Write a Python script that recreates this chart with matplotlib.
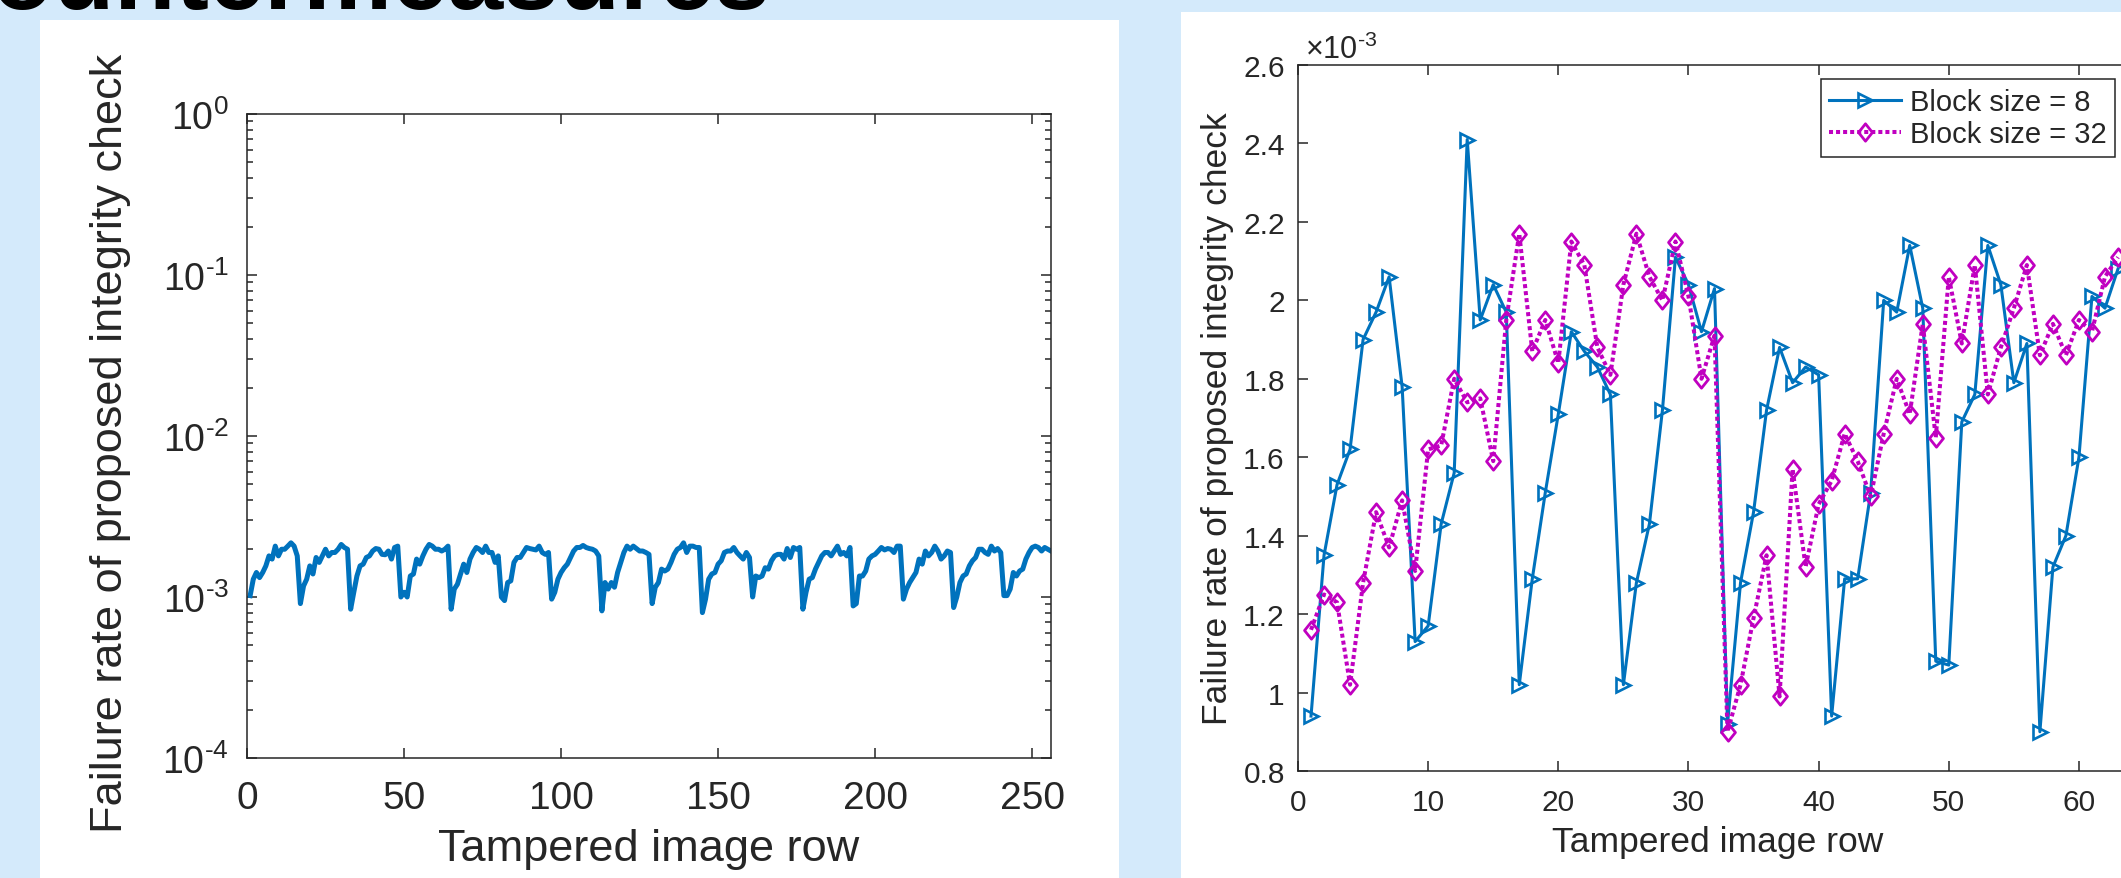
import numpy as np
import matplotlib
matplotlib.use("Agg")
import matplotlib.pyplot as plt
from matplotlib.patches import Rectangle
from matplotlib.path import Path
from matplotlib.ticker import LogLocator, FuncFormatter, NullFormatter, MultipleLocator

# ---------------- data ----------------
# Left chart: failure rate (x 1e-3) per tampered image row, block size 8, rows 1..256
rows_left = np.arange(1, 257)
rate_left_e3 = [
    1.02, 1.29, 1.42, 1.32, 1.42, 1.56, 1.80, 1.72, 2.07, 1.80, 1.98, 1.98, 2.07, 2.17, 2.07, 1.80,
    0.91, 1.17, 1.29, 1.56, 1.39, 1.76, 1.64, 1.80, 1.98, 1.80, 1.89, 1.89, 1.98, 2.12, 2.03, 1.98,
    0.84, 1.07, 1.35, 1.56, 1.60, 1.76, 1.80, 1.93, 2.00, 1.98, 1.84, 1.83, 1.93, 1.72, 2.03, 2.07,
    1.00, 1.07, 1.00, 1.35, 1.39, 1.72, 1.60, 1.80, 1.98, 2.12, 2.07, 1.98, 1.98, 1.93, 1.98, 2.07,
    0.84, 1.12, 1.20, 1.39, 1.60, 1.42, 1.72, 1.89, 2.03, 1.98, 1.89, 2.07, 1.89, 1.89, 1.64, 1.80,
    1.00, 0.95, 1.23, 1.26, 1.64, 1.76, 1.76, 1.89, 2.03, 2.00, 1.98, 1.96, 2.07, 1.89, 1.84, 1.89,
    0.97, 1.07, 1.29, 1.42, 1.52, 1.60, 1.76, 1.93, 2.03, 2.03, 2.09, 2.03, 2.00, 1.98, 1.93, 1.80,
    0.82, 1.23, 1.12, 1.23, 1.15, 1.42, 1.64, 1.89, 2.07, 1.98, 2.07, 2.00, 1.93, 1.93, 1.89, 1.84,
    0.91, 1.15, 1.23, 1.49, 1.45, 1.49, 1.64, 1.84, 1.98, 2.03, 2.17, 1.89, 2.07, 2.07, 2.03, 2.03,
    0.80, 0.97, 1.29, 1.39, 1.42, 1.60, 1.68, 1.89, 1.93, 1.93, 2.03, 1.89, 1.80, 1.72, 1.89, 1.76,
    1.00, 1.35, 1.32, 1.35, 1.52, 1.49, 1.68, 1.80, 1.84, 1.84, 1.72, 2.00, 1.76, 2.03, 1.98, 2.03,
    0.84, 1.07, 1.29, 1.32, 1.49, 1.64, 1.80, 1.89, 1.89, 1.80, 1.93, 2.07, 1.84, 1.89, 1.80, 2.03,
    0.88, 0.91, 1.35, 1.35, 1.45, 1.72, 1.80, 1.84, 1.93, 2.03, 1.96, 2.00, 1.98, 1.89, 2.07, 2.07,
    0.97, 1.12, 1.23, 1.32, 1.42, 1.72, 1.60, 1.93, 1.80, 1.89, 2.07, 1.93, 1.72, 1.80, 1.93, 1.89,
    0.86, 1.00, 1.23, 1.35, 1.39, 1.56, 1.68, 1.76, 1.98, 1.98, 1.89, 1.84, 2.07, 1.93, 2.00, 1.89,
    1.02, 1.02, 1.12, 1.42, 1.35, 1.45, 1.49, 1.72, 1.89, 2.03, 2.07, 2.03, 1.93, 2.03, 1.98, 1.93,
]

# Right chart: failure rate (x 1e-3) for rows 1..63
rows_right = np.arange(1, 64)
block8_e3 = [
    0.94, 1.35, 1.53, 1.62, 1.90, 1.97, 2.06, 1.78, 1.13, 1.17,
    1.43, 1.56, 2.41, 1.95, 2.04, 1.97, 1.02, 1.29, 1.51, 1.71,
    1.92, 1.87, 1.83, 1.76, 1.02, 1.28, 1.43, 1.72, 2.11, 2.04,
    1.92, 2.03, 0.92, 1.28, 1.46, 1.72, 1.88, 1.79, 1.83, 1.81,
    0.94, 1.29, 1.29, 1.51, 2.00, 1.97, 2.14, 1.98, 1.08, 1.07,
    1.69, 1.76, 2.14, 2.04, 1.79, 1.89, 0.90, 1.32, 1.40, 1.60,
    2.01, 1.98, 2.08,
]
block32_e3 = [
    1.16, 1.25, 1.23, 1.02, 1.28, 1.46, 1.37, 1.49, 1.31, 1.62,
    1.63, 1.80, 1.74, 1.75, 1.59, 1.95, 2.17, 1.87, 1.95, 1.84,
    2.15, 2.09, 1.88, 1.81, 2.04, 2.17, 2.06, 2.00, 2.15, 2.01,
    1.80, 1.91, 0.90, 1.02, 1.19, 1.35, 0.99, 1.57, 1.32, 1.48,
    1.54, 1.66, 1.59, 1.50, 1.66, 1.80, 1.71, 1.94, 1.65, 2.06,
    1.89, 2.09, 1.76, 1.88, 1.98, 2.09, 1.86, 1.94, 1.86, 1.95,
    1.92, 2.06, 2.11,
]
series_labels = ["Block size = 8", "Block size = 32"]
xlabel_text = "Tampered image row"
ylabel_text = "Failure rate of proposed integrity check"
title_text = "Countermeasures"

# ---------------- style ----------------
plt.rcParams["font.family"] = ["Liberation Sans", "DejaVu Sans"]
plt.rcParams["mathtext.fontset"] = "custom"
plt.rcParams["mathtext.rm"] = "Liberation Sans"
plt.rcParams["mathtext.it"] = "Liberation Sans:italic"
plt.rcParams["mathtext.bf"] = "Liberation Sans:bold"

W, H = 2121, 879
BG = "#d4eafb"
AX_COL = "#262626"
BLUE = "#0072bd"
MAG = "#c000c0"

fig = plt.figure(figsize=(W / 100, H / 100), dpi=100, facecolor=BG)

def fx(px):
    return px / W

def fy(py):
    return 1 - py / H

# white panels
fig.add_artist(Rectangle((fx(40), 0), fx(1119) - fx(40), fy(21), transform=fig.transFigure,
                         facecolor="white", edgecolor="none", zorder=0))
fig.add_artist(Rectangle((fx(1181), 0), 1 - fx(1181), fy(13), transform=fig.transFigure,
                         facecolor="white", edgecolor="none", zorder=0))

# title (cut off at top)
fig.text(fx(771), fy(9), title_text, ha="right", va="baseline", fontsize=72,
         fontweight="bold", color="black")


def pow10_label(v, pos):
    e = int(round(np.log10(v)))
    if e < 0:
        return r"$\mathregular{10^{\text{-}%d}}$" % (-e)
    return r"$\mathregular{10^{%d}}$" % e

# ---------------- left chart ----------------
axL = fig.add_axes([fx(247), fy(759), fx(1051) - fx(247), fy(115) - fy(759)])
axL.plot(rows_left, np.array(rate_left_e3) * 1e-3, color=BLUE, lw=3.6, solid_joinstyle="round")
axL.set_yscale("log")
axL.set_xlim(0, 256)
axL.set_ylim(1e-4, 1)
axL.xaxis.set_major_locator(MultipleLocator(50))
axL.yaxis.set_major_locator(LogLocator(base=10, numticks=10))
axL.yaxis.set_minor_locator(LogLocator(base=10, subs=np.arange(2, 10), numticks=20))
axL.yaxis.set_minor_formatter(NullFormatter())
axL.yaxis.set_major_formatter(FuncFormatter(pow10_label))
axL.tick_params(which="both", direction="in", top=True, right=True, colors=AX_COL, width=1.1)
axL.tick_params(which="major", length=7)
axL.tick_params(which="minor", length=4.5)
axL.tick_params(axis="x", pad=16, labelsize=28)
axL.tick_params(axis="y", pad=13, labelsize=27)
for s in axL.spines.values():
    s.set_color(AX_COL)
    s.set_linewidth(1.1)
axL.set_xlabel(xlabel_text, fontsize=32.5, color=AX_COL)
axL.set_ylabel(ylabel_text, fontsize=32.5, color=AX_COL)
axL.xaxis.set_label_coords(0.5, -0.108)
axL.yaxis.set_label_coords(-0.144, 0.49)

# ---------------- right chart ----------------
axR = fig.add_axes([fx(1298), fy(772), fx(2131) - fx(1298), fy(66) - fy(772)])
diamond = Path([(0, 1), (0.8, 0), (0, -1), (-0.8, 0), (0, 1)],
               [Path.MOVETO, Path.LINETO, Path.LINETO, Path.LINETO, Path.CLOSEPOLY])
l8, = axR.plot(rows_right, block8_e3, color=BLUE, lw=2.2, marker=">", ms=10.5,
               mfc="none", mec=BLUE, mew=1.9, label=series_labels[0])
l32, = axR.plot(rows_right, block32_e3, color=MAG, lw=2.9, linestyle=(0, (1.0, 0.75)),
                dash_capstyle="butt", marker=diamond, ms=12.5, mfc="none", mec=MAG, mew=2.0,
                label=series_labels[1])
axR.set_xlim(0, 64)
axR.set_ylim(0.8, 2.6)
axR.xaxis.set_major_locator(MultipleLocator(10))
axR.yaxis.set_major_locator(MultipleLocator(0.2))
axR.yaxis.set_major_formatter(FuncFormatter(lambda v, p: ("%.1f" % v).rstrip("0").rstrip(".")))
axR.tick_params(which="both", direction="in", top=True, right=True, colors=AX_COL, width=1.1,
                length=7, labelsize=21.5)
axR.tick_params(axis="x", pad=12)
axR.tick_params(axis="y", pad=9.5)
for s in axR.spines.values():
    s.set_color(AX_COL)
    s.set_linewidth(1.1)
axR.set_xlabel(xlabel_text, fontsize=25.5, color=AX_COL)
axR.set_ylabel(ylabel_text, fontsize=25.5, color=AX_COL)
axR.xaxis.set_label_coords(0.504, -0.0765)
axR.yaxis.set_label_coords(-0.077, 0.5)
fig.text(fx(1305), fy(59), r"$\mathregular{\times10^{\text{-}3}}$", fontsize=22, color=AX_COL,
         ha="left", va="baseline")

leg = fig.legend(handles=[l8, l32], loc="upper right", bbox_to_anchor=(fx(2115), fy(80)),
                 bbox_transform=fig.transFigure, fontsize=21, frameon=True, fancybox=False,
                 framealpha=1, edgecolor=AX_COL, numpoints=1, handlelength=2.45,
                 handletextpad=0.3, borderpad=0.3, labelspacing=0.15, borderaxespad=0)
leg.get_frame().set_linewidth(1.1)
for t in leg.get_texts():
    t.set_color(AX_COL)

fig.savefig("out.png", dpi=100, facecolor=BG)
